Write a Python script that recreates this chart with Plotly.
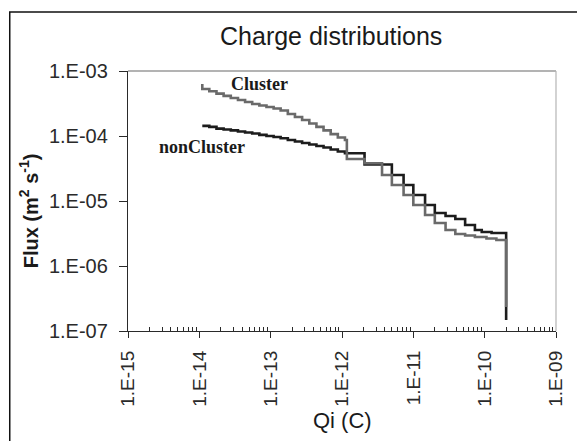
import plotly.graph_objects as go

# ---- data ----
cluster_q = [1.10e-14, 1.10e-14, 1.38e-14, 1.74e-14, 2.19e-14, 2.76e-14, 3.48e-14, 4.38e-14,
             5.51e-14, 6.94e-14, 8.74e-14, 1.10e-13, 1.38e-13, 1.74e-13, 2.19e-13, 2.76e-13,
             3.48e-13, 4.38e-13, 5.51e-13, 6.94e-13, 8.74e-13, 1.10e-12, 1.17e-12, 2.07e-12,
             3.64e-12, 5.00e-12, 7.30e-12, 1.00e-11, 1.46e-11, 2.00e-11, 2.83e-11, 3.88e-11,
             5.32e-11, 7.30e-11, 1.06e-10, 1.46e-10, 2.00e-10]
cluster_flux = [6.31e-4, 5.28e-4, 4.88e-4, 4.49e-4, 4.14e-4, 3.84e-4, 3.58e-4, 3.34e-4,
                3.11e-4, 2.95e-4, 2.79e-4, 2.65e-4, 2.47e-4, 2.18e-4, 1.96e-4, 1.76e-4,
                1.56e-4, 1.38e-4, 1.22e-4, 1.07e-4, 9.48e-5, 8.68e-5, 4.43e-5, 3.80e-5,
                2.51e-5, 1.76e-5, 1.24e-5, 8.68e-6, 6.09e-6, 4.59e-6, 3.58e-6, 3.11e-6,
                2.94e-6, 2.79e-6, 2.65e-6, 2.51e-6, 2.34e-7]

noncluster_q = [1.10e-14, 1.38e-14, 1.74e-14, 2.19e-14, 2.76e-14, 3.48e-14, 4.38e-14, 5.51e-14,
                6.94e-14, 8.74e-14, 1.10e-13, 1.38e-13, 1.74e-13, 2.19e-13, 2.76e-13, 3.48e-13,
                4.38e-13, 5.51e-13, 6.94e-13, 8.74e-13, 1.10e-12, 2.07e-12, 5.00e-12, 7.30e-12,
                1.00e-11, 1.46e-11, 2.00e-11, 2.83e-11, 3.88e-11, 5.32e-11, 7.30e-11, 9.10e-11,
                1.25e-10, 2.00e-10]
noncluster_flux = [1.43e-4, 1.38e-4, 1.30e-4, 1.26e-4, 1.22e-4, 1.17e-4, 1.13e-4, 1.09e-4,
                   1.04e-4, 1.00e-4, 9.66e-5, 9.22e-5, 8.68e-5, 8.23e-5, 7.80e-5, 7.40e-5,
                   7.02e-5, 6.65e-5, 6.20e-5, 5.78e-5, 5.42e-5, 3.65e-5, 2.51e-5, 1.76e-5,
                   1.24e-5, 8.68e-6, 6.53e-6, 5.88e-6, 5.28e-6, 4.28e-6, 3.58e-6, 3.33e-6,
                   3.22e-6, 1.48e-7]

x_tick_vals = [1e-15, 1e-14, 1e-13, 1e-12, 1e-11, 1e-10, 1e-9]
x_tick_text = ["1.E-15", "1.E-14", "1.E-13", "1.E-12", "1.E-11", "1.E-10", "1.E-09"]
y_tick_vals = [1e-7, 1e-6, 1e-5, 1e-4, 1e-3]
y_tick_text = ["1.E-07", "1.E-06", "1.E-05", "1.E-04", "1.E-03"]
minor_mult = [2, 3, 4, 5, 6, 7, 8, 9]
x_minor_vals = [m * d for d in x_tick_vals[:-1] for m in minor_mult]

title_text = "Charge distributions"
x_title = "Qi (C)"
y_title = "<b>Flux (m<sup>2</sup> s<sup>-1</sup>)</b>"

AX = "#2a2a2a"
TXT = "#1a1a1a"

fig = go.Figure()
fig.add_trace(go.Scatter(x=noncluster_q, y=noncluster_flux, mode="lines",
                         line=dict(color="#1c1c1c", width=2.6, shape="hv"),
                         name="nonCluster"))
fig.add_trace(go.Scatter(x=cluster_q, y=cluster_flux, mode="lines",
                         line=dict(color="#6a6a6a", width=2.6, shape="hv"),
                         name="Cluster"))

fig.update_layout(
    width=577, height=441,
    margin=dict(l=128, r=11, t=71, b=110),
    paper_bgcolor="white", plot_bgcolor="white",
    showlegend=False,
    font=dict(family="Liberation Sans, Arial, sans-serif", color=AX),
    title=dict(text=title_text, x=0.574, xref="container", xanchor="center",
               y=0.918, yref="container", yanchor="middle",
               font=dict(size=25, color=TXT)),
)

fig.update_xaxes(
    type="log", range=[-15, -9],
    tickmode="array", tickvals=x_tick_vals, ticktext=x_tick_text,
    tickangle=-90, ticks="outside", ticklen=6, tickwidth=1.2, tickcolor=AX,
    ticklabelstandoff=5,
    tickfont=dict(size=19, color="#2a2a2a"),
    showline=True, linecolor=AX, linewidth=1.3,
    showgrid=False, zeroline=False,
    minor=dict(tickmode="array", tickvals=x_minor_vals, ticks="inside",
               ticklen=4, tickwidth=1, tickcolor=AX, showgrid=False),
)
fig.update_yaxes(
    type="log", range=[-7, -3],
    tickmode="array", tickvals=y_tick_vals, ticktext=y_tick_text,
    ticks="outside", ticklen=8, tickwidth=1.2, tickcolor=AX,
    ticklabelstandoff=7,
    tickfont=dict(size=20, color="#2a2a2a"),
    showline=True, linecolor=AX, linewidth=1.3,
    showgrid=False, zeroline=False,
)

# plot-area top/right borders and outer frame
fig.add_shape(type="line", xref="paper", yref="paper", x0=0, y0=1, x1=1, y1=1,
              line=dict(color="#9a9a9a", width=1.3))
fig.add_shape(type="line", xref="paper", yref="paper", x0=1, y0=0, x1=1, y1=1,
              line=dict(color="#b5b5b5", width=1.2))
fig.add_shape(type="rect", xref="paper", yref="paper", x0=-0.2763, y0=-0.6, x1=1.2,
              y1=1.2269, line=dict(color="#111", width=1.5), layer="below")

ann = dict(xref="paper", yref="paper", showarrow=False, xanchor="center", yanchor="middle")
fig.add_annotation(text="<b>Cluster</b>", x=0.307, y=0.95,
                   font=dict(family="Liberation Serif, serif", size=18, color=TXT), **ann)
fig.add_annotation(text="<b>nonCluster</b>", x=0.174, y=0.706,
                   font=dict(family="Liberation Serif, serif", size=18, color=TXT), **ann)
fig.add_annotation(text=x_title, x=0.5, y=-0.345,
                   font=dict(size=22, color=TXT), **ann)
fig.add_annotation(text=y_title, x=-0.2329, y=0.4615, textangle=-90,
                   font=dict(size=20, color=TXT), **ann)

# remove the page's default body margin so the figure sits at the window's top-left
fig.write_html("out.html",
               config={"displayModeBar": False},
               post_script="document.body.style.margin='0px';"
                           "document.documentElement.style.overflow='hidden';")
